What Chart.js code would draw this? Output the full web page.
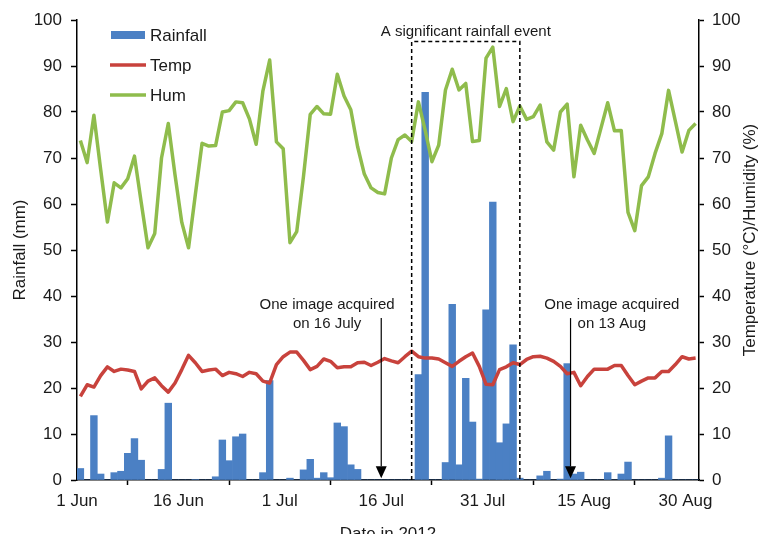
<!DOCTYPE html>
<html>
<head>
<meta charset="utf-8">
<script src="https://cdn.jsdelivr.net/npm/chart.js@4.4.1/dist/chart.umd.min.js"></script>
<style>
  body { margin: 0; background: #fff; }
</style>
</head>
<body>
<canvas id="weatherChart" width="759" height="534"></canvas>
<script>
// daily values, 1 Jun .. 31 Aug 2012
const tickLabels = ["1 Jun", "16 Jun", "1 Jul", "16 Jul", "31 Jul", "15 Aug", "30 Aug"];

const rainfall = [
  2.5, 0, 14.0, 1.3, 0, 1.6, 1.9, 5.8, 9.0, 4.3,
  0, 0, 2.3, 16.7, 0, 0, 0, 0.1, 0, 0,
  0.7, 8.7, 4.2, 9.4, 10.0, 0, 0, 1.6, 21.6, 0,
  0, 0.4, 0, 2.2, 4.5, 0.4, 1.6, 0.5, 12.4, 11.6,
  3.3, 2.3, 0, 0, 0, 0, 0, 0, 0, 0,
  22.9, 84.3, 0, 0, 3.8, 38.2, 3.3, 22.1, 12.6, 0.2,
  37.0, 60.4, 8.1, 12.2, 29.4, 0.4, 0, 0, 0.9, 1.9,
  0, 0.2, 25.3, 1.3, 1.7, 0, 0, 0, 1.6, 0,
  1.3, 3.9, 0, 0, 0, 0, 0.4, 9.6, 0, 0,
  0, 0
];

const temperature = [
  18.2, 20.7, 20.2, 22.7, 24.6, 23.6, 24.1, 23.9, 23.6, 19.8,
  21.5, 22.2, 20.5, 19.1, 21.1, 24.0, 27.1, 25.5, 23.6, 23.9,
  24.1, 22.7, 23.4, 23.1, 22.5, 23.4, 23.1, 21.5, 21.1, 25.1,
  26.8, 27.8, 27.8, 26.0, 24.0, 24.7, 26.3, 25.8, 24.4, 24.6,
  24.6, 25.5, 25.6, 24.9, 25.6, 26.4, 25.9, 25.5, 26.8, 28.0,
  26.8, 26.5, 26.5, 26.3, 25.5, 24.7, 25.8, 26.8, 27.6, 24.7,
  20.8, 20.7, 24.0, 24.6, 25.5, 25.1, 26.2, 26.8, 26.9, 26.5,
  25.8, 24.7, 23.1, 23.4, 20.5, 22.5, 24.1, 24.1, 24.1, 24.9,
  24.9, 22.7, 20.7, 21.5, 22.2, 22.2, 23.6, 23.6, 25.1, 26.8,
  26.3, 26.5
];

const humidity = [
  73.8, 69.0, 79.3, 67.5, 56.1, 64.6, 63.5, 65.5, 70.4, 60.3,
  50.5, 53.6, 70.0, 77.5, 66.3, 56.0, 50.5, 62.0, 73.2, 72.6,
  72.7, 80.0, 80.3, 82.2, 82.0, 78.5, 73.0, 84.6, 91.3, 73.5,
  72.0, 51.6, 54.0, 66.0, 79.5, 81.2, 79.6, 79.5, 88.2, 83.5,
  80.5, 72.5, 66.5, 63.5, 62.5, 62.2, 70.0, 74.0, 75.0, 73.6,
  82.2, 76.0, 69.2, 72.8, 84.8, 89.3, 84.8, 86.2, 73.6, 73.8,
  91.7, 94.1, 81.2, 85.1, 77.9, 81.3, 78.4, 79.0, 81.5, 73.5,
  71.7, 80.0, 81.7, 65.9, 77.1, 73.9, 71.0, 76.5, 82.0, 75.9,
  76.0, 58.2, 54.2, 64.0, 65.9, 71.0, 75.3, 84.7, 78.0, 71.3,
  76.0, 77.5
];

// notes on the plot, in days from 1 Jun and mm of rainfall
const eventBox = { from: 49.5, to: 65.5, top: 95.3, label: "A significant rainfall event" };
const imageNotes = [
  { day: 45, textDay: 37, lines: ["One image acquired", "on 16 July"] },
  { day: 73, textDay: 79.1, lines: ["One image acquired", "on 13 Aug"] }
];

const blue = "#4B80C4", red = "#C8423C", green = "#8FBC4C";
const ink = "#1a1a1a";
const family = '"Liberation Sans", Arial, sans-serif';

const toPoints = arr => arr.map((v, i) => ({ x: i + 0.5, y: v }));

Chart.defaults.font.family = family;
Chart.defaults.color = ink;

const extras = {
  id: "extras",
  afterDatasetsDraw(chart) {
    const { ctx, scales: { x, y } } = chart;
    ctx.save();
    ctx.strokeStyle = "#000";
    ctx.fillStyle = ink;

    // dashed box round the event
    const l = x.getPixelForValue(eventBox.from);
    const r = x.getPixelForValue(eventBox.to);
    const t = y.getPixelForValue(eventBox.top);
    const b = y.getPixelForValue(0);
    ctx.lineWidth = 1.5;
    ctx.setLineDash([4, 3]);
    ctx.beginPath();
    ctx.moveTo(l, b); ctx.lineTo(l, t); ctx.lineTo(r, t); ctx.lineTo(r, b);
    ctx.stroke();
    ctx.setLineDash([]);

    ctx.font = "15px " + family;
    ctx.textAlign = "center";
    ctx.textBaseline = "alphabetic";
    ctx.fillText(eventBox.label, (l + r) / 2, t - 6);

    // arrows for image dates
    imageNotes.forEach(n => {
      const ax = x.getPixelForValue(n.day);
      const top = y.getPixelForValue(35.2);
      const tip = y.getPixelForValue(0.4);
      const base = y.getPixelForValue(3.0);
      ctx.lineWidth = 1.2;
      ctx.beginPath();
      ctx.moveTo(ax, top); ctx.lineTo(ax, base);
      ctx.stroke();
      ctx.fillStyle = "#000";
      ctx.beginPath();
      ctx.moveTo(ax - 5.5, base); ctx.lineTo(ax + 5.5, base); ctx.lineTo(ax, tip);
      ctx.closePath();
      ctx.fill();
      ctx.fillStyle = ink;
      const tx = x.getPixelForValue(n.textDay);
      const ty = y.getPixelForValue(37.1);
      n.lines.forEach((s, i) => ctx.fillText(s, tx, ty + i * 19));
    });
    ctx.restore();
  },
  afterDraw(chart) {
    const { ctx, chartArea } = chart;
    ctx.save();
    ctx.font = "17px " + family;

    // legend
    const lx = chartArea.left + 34;
    ctx.fillStyle = blue;
    ctx.fillRect(lx, 31, 34, 8);
    ctx.lineWidth = 3.5;
    ctx.strokeStyle = red;
    ctx.beginPath(); ctx.moveTo(lx - 1, 65); ctx.lineTo(lx + 35, 65); ctx.stroke();
    ctx.strokeStyle = green;
    ctx.beginPath(); ctx.moveTo(lx - 1, 95); ctx.lineTo(lx + 35, 95); ctx.stroke();
    ctx.fillStyle = ink;
    ctx.textAlign = "left";
    ctx.textBaseline = "alphabetic";
    ctx.fillText("Rainfall", lx + 39, 41);
    ctx.fillText("Temp", lx + 39, 70.5);
    ctx.fillText("Hum", lx + 39, 100.5);

    // axis titles
    const midY = (chartArea.top + chartArea.bottom) / 2;
    ctx.textAlign = "center";
    ctx.fillText("Date in 2012", (chartArea.left + chartArea.right) / 2, 539);

    ctx.translate(24.5, midY);
    ctx.rotate(-Math.PI / 2);
    ctx.fillText("Rainfall (mm)", 0, 0);
    ctx.rotate(Math.PI / 2);
    ctx.translate(-24.5, -midY);

    ctx.translate(755, midY - 10);
    ctx.rotate(-Math.PI / 2);
    ctx.fillText("Temperature (\u00B0C)/Humidity (%)", 0, 0);
    ctx.restore();
  }
};

const axisGrid = {
  display: true,
  drawOnChartArea: false,
  drawTicks: true,
  tickLength: 6,
  tickColor: "#000",
  tickWidth: 1.5
};
const axisBorder = { display: true, color: "#000", width: 1.5 };

new Chart(document.getElementById("weatherChart"), {
  type: "bar",
  data: {
    datasets: [
      {
        type: "line",
        label: "Hum",
        data: toPoints(humidity),
        yAxisID: "y2",
        borderColor: green,
        borderWidth: 3.5,
        pointRadius: 0,
        tension: 0,
        borderJoinStyle: "round",
        order: 0
      },
      {
        type: "line",
        label: "Temp",
        data: toPoints(temperature),
        yAxisID: "y2",
        borderColor: red,
        borderWidth: 3.5,
        pointRadius: 0,
        tension: 0,
        borderJoinStyle: "round",
        order: 1
      },
      {
        type: "bar",
        label: "Rainfall",
        data: toPoints(rainfall),
        yAxisID: "y",
        backgroundColor: blue,
        borderWidth: 0,
        barPercentage: 1,
        categoryPercentage: 1,
        order: 2
      }
    ]
  },
  options: {
    responsive: false,
    animation: false,
    devicePixelRatio: 1,
    layout: { padding: { top: 20, left: 0, right: 0, bottom: 0 } },
    plugins: {
      legend: { display: false },
      tooltip: { enabled: false }
    },
    scales: {
      x: {
        type: "linear",
        min: 0,
        max: 92,
        offset: false,
        grid: { ...axisGrid, tickLength: 5 },
        border: axisBorder,
        afterBuildTicks: s => { s.ticks = tickLabels.map((_, i) => ({ value: i * 15 })); },
        afterFit: s => { s.height = 54; },
        ticks: {
          autoSkip: false,
          maxRotation: 0,
          padding: 6,
          font: { size: 17 },
          callback: v => tickLabels[Math.round(v / 15)]
        }
      },
      y: {
        position: "left",
        min: 0,
        max: 100,
        grid: axisGrid,
        border: axisBorder,
        afterFit: s => { s.width = 77; },
        ticks: { stepSize: 10, padding: 9, font: { size: 17 } }
      },
      y2: {
        position: "right",
        min: 0,
        max: 100,
        grid: { ...axisGrid, tickLength: 5 },
        border: axisBorder,
        afterFit: s => { s.width = 60; },
        ticks: { stepSize: 10, padding: 8, font: { size: 17 } }
      }
    }
  },
  plugins: [extras]
});
</script>
</body>
</html>
